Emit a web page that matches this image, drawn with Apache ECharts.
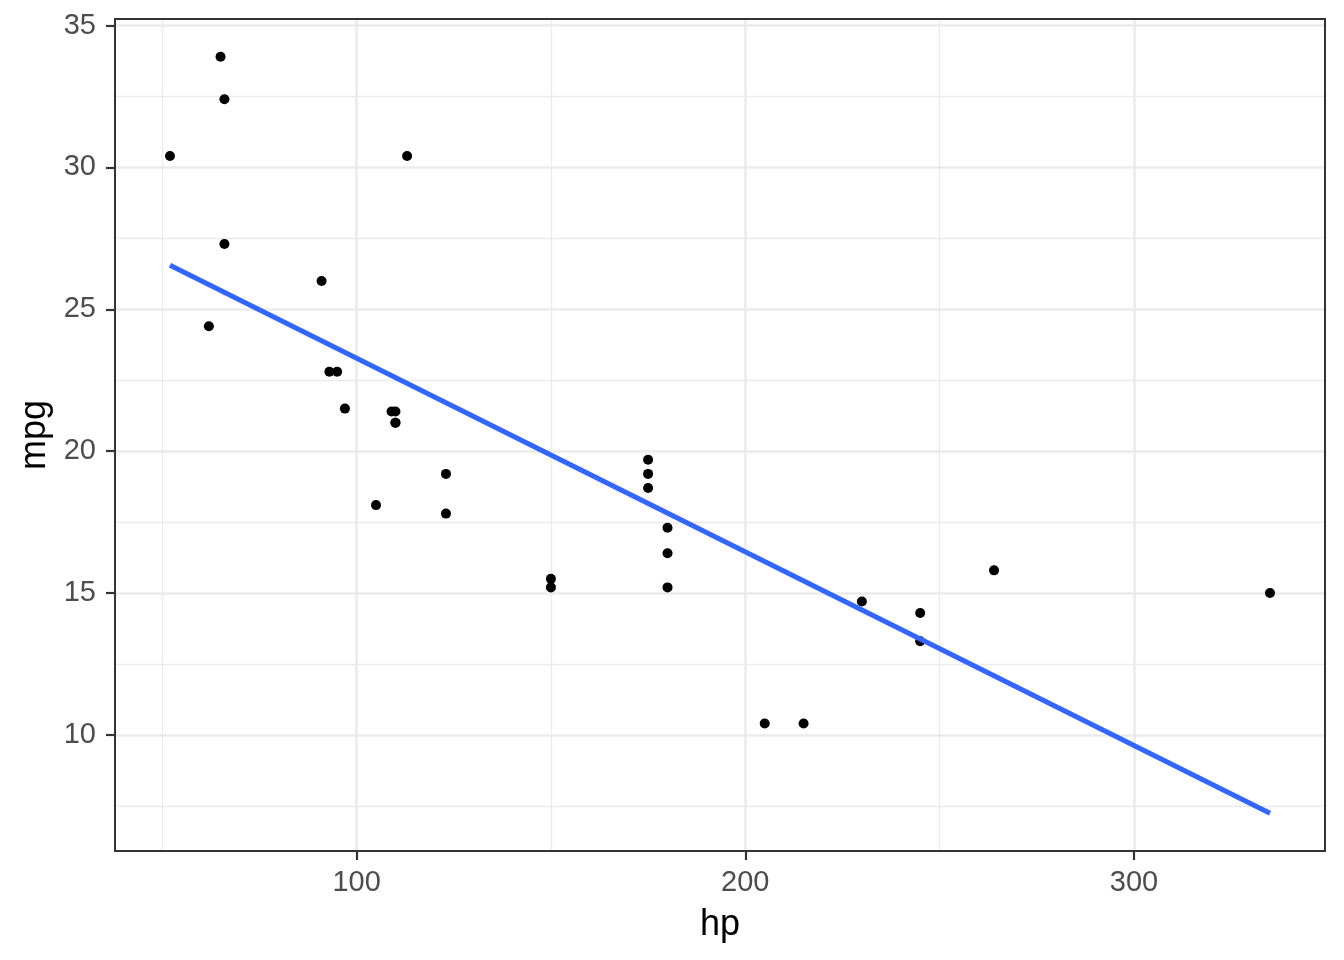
<!DOCTYPE html>
<html>
<head>
<meta charset="utf-8">
<script src="https://cdn.jsdelivr.net/npm/echarts@6/dist/echarts.min.js"></script>
<style>html,body{margin:0;padding:0;background:#fff}#c{width:1344px;height:960px}</style>
</head>
<body>
<div id="c"></div>
<script>
const hp  = [110,110,93,110,175,105,245,62,95,123,123,180,180,180,205,215,230,66,52,65,97,150,150,245,175,66,91,113,264,175,335,109];
const mpg = [21.0,21.0,22.8,21.4,18.7,18.1,14.3,24.4,22.8,19.2,17.8,16.4,17.3,15.2,10.4,10.4,14.7,32.4,30.4,33.9,21.5,15.5,15.2,13.3,19.2,27.3,26.0,30.4,15.8,19.7,15.0,21.4];
const fitHp  = [52, 335];
const fitMpg = [26.55, 7.24];
const xTicks = [100, 200, 300];
const yTicks = [10, 15, 20, 25, 30, 35];

const pts = hp.map((h, i) => [h, mpg[i]]);
const fit = fitHp.map((h, i) => [h, fitMpg[i]]);
const FONT = '"Liberation Sans", Arial, sans-serif';

const chart = echarts.init(document.getElementById('c'), null, {renderer: 'canvas'});
chart.setOption({
  animation: false,
  backgroundColor: '#ffffff',
  grid: {left: 115, right: 19, top: 19, bottom: 109, show: true, borderColor: '#333333', borderWidth: 2, backgroundColor: 'transparent', z: 10},
  xAxis: {
    type: 'value', min: 37.85, max: 349.15, splitNumber: 3,
    name: 'hp', nameLocation: 'middle', nameGap: 56,
    nameTextStyle: {fontFamily: FONT, fontSize: 36, color: '#000'},
    axisLine: {show: false},
    axisTick: {show: true, length: 9, customValues: xTicks, lineStyle: {color: '#333333', width: 2.2}},
    axisLabel: {customValues: xTicks, margin: 17, fontFamily: FONT, fontSize: 29, color: '#4D4D4D',
      formatter: v => (xTicks.indexOf(v) >= 0 ? String(v) : '')},
    splitLine: {show: true, lineStyle: {color: '#EBEBEB', width: 2.6}},
    minorTick: {show: false, splitNumber: 2},
    minorSplitLine: {show: true, lineStyle: {color: '#EBEBEB', width: 1.3}}
  },
  yAxis: {
    type: 'value', min: 5.91, max: 35.23, splitNumber: 6,
    name: 'mpg', nameLocation: 'middle', nameGap: 62, nameRotate: 90,
    nameTextStyle: {fontFamily: FONT, fontSize: 36, color: '#000'},
    axisLine: {show: false},
    axisTick: {show: true, length: 9, customValues: yTicks, lineStyle: {color: '#333333', width: 2.2}},
    axisLabel: {customValues: yTicks, margin: 19, fontFamily: FONT, fontSize: 29, color: '#4D4D4D',
      formatter: v => (yTicks.indexOf(v) >= 0 ? String(v) : '')},
    splitLine: {show: true, lineStyle: {color: '#EBEBEB', width: 2.6}},
    minorTick: {show: false, splitNumber: 2},
    minorSplitLine: {show: true, lineStyle: {color: '#EBEBEB', width: 1.3}}
  },
  series: [
    {type: 'scatter', data: pts, symbol: 'circle', symbolSize: 10, itemStyle: {color: '#000000', opacity: 1}, silent: true, z: 2},
    {type: 'line', data: fit, showSymbol: false, lineStyle: {color: '#3366FF', width: 5}, silent: true, z: 3}
  ]
});
</script>
</body>
</html>
